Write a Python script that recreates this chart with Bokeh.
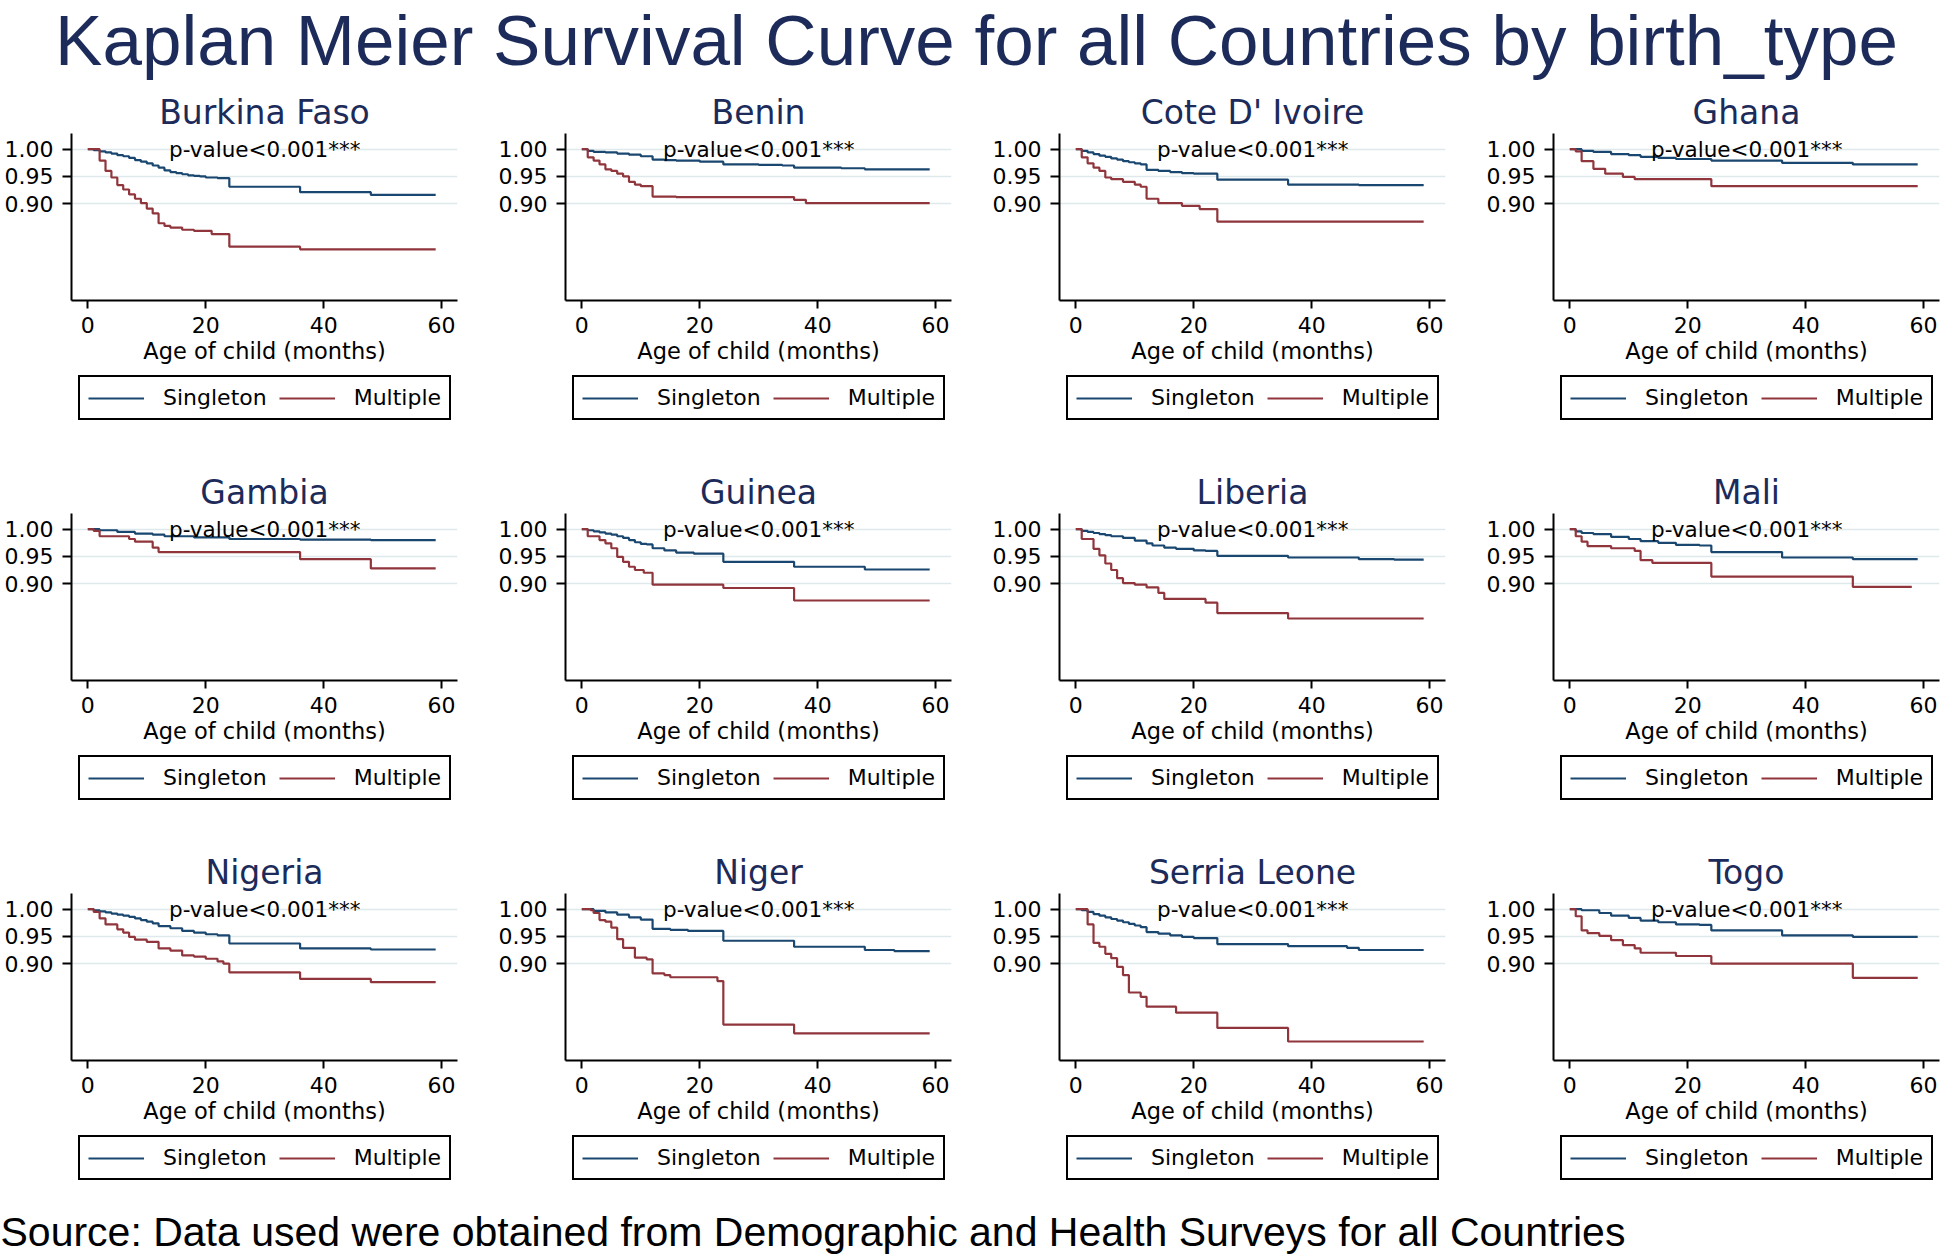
from bokeh.plotting import figure
from bokeh.models import Range1d, FixedTicker, NumeralTickFormatter, Legend, LegendItem
from bokeh.layouts import column, row
from bokeh.core.properties import value
from bokeh.embed import file_html
from bokeh.resources import INLINE

# ---------------- texts ----------------
main_title = "Kaplan Meier Survival Curve for all Countries by birth_type"
source_note = "Source: Data used were obtained from Demographic and Health Surveys for all Countries"
x_title = "Age of child (months)"
p_value_text = "p-value<0.001***"
legend_labels = ["Singleton", "Multiple"]
x_ticks = [0, 20, 40, 60]
y_ticks = [0.90, 0.95, 1.00]

countries = ["Burkina Faso", "Benin", "Cote D' Ivoire", "Ghana",
             "Gambia", "Guinea", "Liberia", "Mali",
             "Nigeria", "Niger", "Serria Leone", "Togo"]

# ---------------- survival estimates (month, survival) ----------------
burkina_faso_singleton = [(0, 1.000), (1, 0.998), (2, 0.996), (3, 0.994), (4, 0.992), (5, 0.989), (6, 0.987),
                          (7, 0.984), (8, 0.980), (9, 0.977), (10, 0.974), (11, 0.970), (12, 0.966), (13, 0.961),
                          (14, 0.958), (15, 0.956), (16, 0.954), (17, 0.952), (18, 0.951), (19, 0.950), (20, 0.948),
                          (22, 0.947), (24, 0.931), (36, 0.921), (48, 0.916), (59, 0.916)]
burkina_faso_multiple = [(0, 1.000), (2, 0.979), (3, 0.960), (4, 0.948), (5, 0.934), (6, 0.926), (7, 0.917),
                         (8, 0.909), (9, 0.901), (10, 0.891), (11, 0.882), (12, 0.864), (13, 0.859), (14, 0.856),
                         (16, 0.852), (18, 0.850), (21, 0.844), (24, 0.821), (36, 0.816), (59, 0.816)]

benin_singleton = [(0, 1.000), (1, 0.997), (2, 0.995), (4, 0.994), (6, 0.992), (8, 0.990), (10, 0.987),
                   (12, 0.981), (14, 0.980), (16, 0.979), (20, 0.977), (24, 0.972), (30, 0.971), (34, 0.970),
                   (36, 0.966), (44, 0.965), (48, 0.963), (59, 0.963)]
benin_multiple = [(0, 1.000), (1, 0.985), (2, 0.979), (3, 0.972), (4, 0.963), (5, 0.960), (6, 0.955), (7, 0.950),
                  (8, 0.940), (9, 0.935), (10, 0.932), (12, 0.913), (16, 0.912), (36, 0.907), (38, 0.901),
                  (59, 0.901)]

cote_divoire_singleton = [(0, 1.000), (1, 0.997), (2, 0.994), (3, 0.991), (4, 0.988), (5, 0.986), (6, 0.983),
                          (7, 0.981), (8, 0.978), (9, 0.976), (10, 0.974), (11, 0.972), (12, 0.962), (14, 0.960),
                          (16, 0.958), (18, 0.956), (20, 0.955), (24, 0.944), (36, 0.935), (48, 0.934), (59, 0.934)]
cote_divoire_multiple = [(0, 1.000), (1, 0.985), (2, 0.974), (3, 0.966), (4, 0.960), (5, 0.948), (6, 0.945),
                         (8, 0.940), (10, 0.935), (11, 0.931), (12, 0.909), (14, 0.901), (18, 0.896), (21, 0.890),
                         (24, 0.867), (59, 0.867)]

ghana_singleton = [(0, 1.000), (2, 0.997), (4, 0.995), (7, 0.991), (10, 0.989), (12, 0.986), (15, 0.984),
                   (18, 0.982), (24, 0.979), (36, 0.975), (48, 0.972), (59, 0.972)]
ghana_multiple = [(0, 1.000), (1, 0.996), (2, 0.978), (4, 0.964), (6, 0.955), (9, 0.949), (11, 0.945),
                  (24, 0.932), (59, 0.932)]

gambia_singleton = [(0, 1.000), (2, 0.998), (5, 0.995), (8, 0.992), (11, 0.990), (13, 0.987), (18, 0.985),
                    (24, 0.982), (36, 0.981), (48, 0.980), (59, 0.980)]
gambia_multiple = [(0, 1.000), (1, 0.997), (2, 0.987), (7, 0.982), (8, 0.977), (11, 0.966), (12, 0.958),
                   (36, 0.945), (48, 0.928), (59, 0.928)]

guinea_singleton = [(0, 1.000), (1, 0.998), (2, 0.996), (3, 0.994), (4, 0.992), (5, 0.990), (6, 0.987),
                    (7, 0.984), (8, 0.980), (9, 0.976), (10, 0.973), (11, 0.972), (12, 0.965), (14, 0.961),
                    (16, 0.957), (19, 0.955), (24, 0.940), (36, 0.931), (48, 0.926), (59, 0.926)]
guinea_multiple = [(0, 1.000), (1, 0.987), (3, 0.980), (4, 0.974), (5, 0.965), (6, 0.949), (7, 0.940),
                   (8, 0.931), (9, 0.925), (10.5, 0.920), (12, 0.898), (24, 0.892), (36, 0.869), (59, 0.869)]

liberia_singleton = [(0, 1.000), (1, 0.997), (2, 0.995), (3, 0.993), (4, 0.991), (5, 0.989), (6, 0.987),
                     (8, 0.984), (10, 0.979), (12, 0.974), (13, 0.970), (15, 0.966), (17, 0.964), (20, 0.961),
                     (22, 0.960), (24, 0.951), (36, 0.948), (48, 0.945), (54, 0.944), (59, 0.944)]
liberia_multiple = [(0, 1.000), (1, 0.982), (3, 0.964), (4, 0.952), (5, 0.937), (6, 0.925), (7, 0.910),
                    (8, 0.901), (10, 0.898), (12, 0.893), (14, 0.883), (15, 0.872), (22, 0.865), (24, 0.846),
                    (36, 0.836), (59, 0.836)]

mali_singleton = [(0, 1.000), (1, 0.996), (2, 0.993), (4, 0.991), (7, 0.986), (10, 0.982), (12, 0.978),
                  (15, 0.975), (18, 0.971), (22, 0.970), (24, 0.958), (36, 0.948), (48, 0.945), (59, 0.945)]
mali_multiple = [(0, 1.000), (1, 0.987), (2, 0.977), (3, 0.969), (7, 0.965), (11, 0.960), (12, 0.943),
                 (14, 0.938), (24, 0.913), (48, 0.894), (58, 0.894)]

nigeria_singleton = [(0, 1.000), (1, 0.998), (2, 0.996), (3, 0.994), (4, 0.992), (5, 0.990), (6, 0.988),
                     (7, 0.986), (8, 0.983), (9, 0.980), (10, 0.977), (11, 0.974), (12, 0.969), (14, 0.965),
                     (16, 0.960), (18, 0.957), (20, 0.954), (22, 0.952), (24, 0.937), (36, 0.928), (48, 0.926),
                     (59, 0.926)]
nigeria_multiple = [(0, 1.000), (1, 0.995), (2, 0.983), (3, 0.972), (5, 0.963), (6, 0.957), (7, 0.949),
                    (8, 0.944), (10, 0.940), (12, 0.928), (14, 0.924), (16, 0.915), (18, 0.913), (20, 0.909),
                    (22, 0.904), (23, 0.900), (24, 0.884), (36, 0.872), (48, 0.866), (59, 0.866)]

niger_singleton = [(0, 1.000), (2, 0.997), (4, 0.994), (6, 0.990), (8, 0.985), (10, 0.981), (12, 0.964),
                   (15, 0.962), (18, 0.960), (24, 0.942), (36, 0.931), (48, 0.925), (53, 0.923), (59, 0.923)]
niger_multiple = [(0, 1.000), (1.5, 0.998), (2, 0.993), (3, 0.980), (4, 0.977), (5, 0.966), (6, 0.945),
                  (7, 0.929), (9, 0.911), (11, 0.908), (12, 0.882), (14, 0.879), (15, 0.875), (23, 0.868),
                  (24, 0.788), (36, 0.772), (59, 0.772)]

sierra_leone_singleton = [(0, 1.000), (1, 0.998), (2, 0.995), (3, 0.991), (4, 0.988), (5, 0.985), (6, 0.982),
                          (7, 0.979), (8, 0.976), (9, 0.973), (10, 0.970), (11, 0.967), (12, 0.958), (14, 0.955),
                          (16, 0.952), (18, 0.949), (20, 0.947), (24, 0.936), (36, 0.932), (46, 0.929), (48, 0.925),
                          (59, 0.925)]
sierra_leone_multiple = [(0, 1.000), (2, 0.972), (3, 0.938), (4, 0.931), (5, 0.918), (6, 0.910), (7, 0.894),
                         (8, 0.879), (9, 0.847), (11, 0.839), (12, 0.821), (17, 0.810), (24, 0.782), (36, 0.757),
                         (59, 0.757)]

togo_singleton = [(0, 1.000), (2, 0.998), (5, 0.993), (7, 0.988), (10, 0.984), (12, 0.979), (15, 0.976),
                  (18, 0.972), (22, 0.971), (24, 0.961), (36, 0.952), (48, 0.949), (59, 0.949)]
togo_multiple = [(0, 1.000), (1, 0.987), (2, 0.961), (3, 0.956), (5, 0.951), (7, 0.943), (9, 0.934),
                 (11, 0.928), (12, 0.920), (18, 0.914), (24, 0.900), (48, 0.874), (59, 0.874)]

singleton_curves = [burkina_faso_singleton, benin_singleton, cote_divoire_singleton, ghana_singleton,
                    gambia_singleton, guinea_singleton, liberia_singleton, mali_singleton,
                    nigeria_singleton, niger_singleton, sierra_leone_singleton, togo_singleton]
multiple_curves = [burkina_faso_multiple, benin_multiple, cote_divoire_multiple, ghana_multiple,
                   gambia_multiple, guinea_multiple, liberia_multiple, mali_multiple,
                   nigeria_multiple, niger_multiple, sierra_leone_multiple, togo_multiple]

# ---------------- styling ----------------
NAVY_TITLE = "#1c2b5a"
C_SINGLE = "#1a476f"
C_MULT = "#90353b"
GRID = "#dfe9ec"
PANEL_FONT = "DejaVu Sans"
HEAD_FONT = "Liberation Sans"

TOTAL_W = 1946
FRAME_W, FRAME_H = 386, 167
BORDER_L, BORDER_T, BORDER_B = 71, 53, 75
col_widths = [494, 494, 494, TOTAL_W - 3 * 494]
legend_heights = [85, 85, 65]
HEAD_H = 80
FOOT_H = 55
NAN = float("nan")


def bare_figure(w, h, xr, yr):
    return figure(width=w, height=h, x_range=xr, y_range=yr, title=None,
                  x_axis_type=None, y_axis_type=None, output_backend="svg", toolbar_location=None,
                  min_border=0, min_border_left=0, min_border_right=0, min_border_top=0,
                  min_border_bottom=0, outline_line_color=None,
                  background_fill_color="white", border_fill_color="white")


def make_cell(i):
    r, c = divmod(i, 4)
    p = figure(frame_width=FRAME_W, frame_height=FRAME_H,
               x_range=Range1d(-2.77, 62.7), y_range=Range1d(0.7221, 1.0288),
               output_backend="svg", toolbar_location=None,
               min_border_left=BORDER_L, min_border_right=col_widths[c] - BORDER_L - FRAME_W,
               min_border_top=BORDER_T, min_border_bottom=BORDER_B,
               background_fill_color="white", border_fill_color="white",
               outline_line_color=None)
    p.title.text = countries[i]
    p.title.align = "center"
    p.title.text_font = PANEL_FONT
    p.title.text_font_size = "33px"
    p.title.text_font_style = "normal"
    p.title.text_color = NAVY_TITLE
    p.title.standoff = 3

    for ax in (p.xaxis[0], p.yaxis[0]):
        ax.axis_line_width = 2
        ax.axis_line_color = "black"
        ax.major_tick_line_width = 2
        ax.major_tick_line_color = "black"
        ax.major_tick_in = 0
        ax.minor_tick_line_color = None
        ax.major_label_text_font = PANEL_FONT
        ax.major_label_text_font_size = "22px"
        ax.major_label_text_color = "black"

    p.xaxis.ticker = FixedTicker(ticks=x_ticks)
    p.xaxis.major_tick_out = 8
    p.xaxis.major_label_standoff = 8
    p.xaxis.axis_label = x_title
    p.xaxis.axis_label_text_font = PANEL_FONT
    p.xaxis.axis_label_text_font_size = "22.5px"
    p.xaxis.axis_label_text_font_style = "normal"
    p.xaxis.axis_label_text_color = "black"
    p.xaxis.axis_label_standoff = 2

    p.yaxis.ticker = FixedTicker(ticks=y_ticks)
    p.yaxis.formatter = NumeralTickFormatter(format="0.00")
    p.yaxis.major_tick_out = 9
    p.yaxis.major_label_standoff = 9

    p.xgrid.visible = False
    p.ygrid.ticker = FixedTicker(ticks=y_ticks)
    p.ygrid.grid_line_color = GRID
    p.ygrid.grid_line_width = 1.5

    s_t = [t for t, s in singleton_curves[i]]
    s_s = [s for t, s in singleton_curves[i]]
    m_t = [t for t, s in multiple_curves[i]]
    m_s = [s for t, s in multiple_curves[i]]
    p.step(x=s_t, y=s_s, mode="after", line_color=C_SINGLE, line_width=2.2)
    p.step(x=m_t, y=m_s, mode="after", line_color=C_MULT, line_width=2.2)

    p.text(x=[30], y=[1.0], text=[p_value_text], text_align="center", text_baseline="middle",
           text_font=value(PANEL_FONT), text_font_size="21.5px", text_color="black")

    # legend strip below the panel (its frame is aligned with the panel frame)
    lh = legend_heights[r]
    lf = bare_figure(col_widths[c], lh, Range1d(0, 1), Range1d(0, 1))
    g1 = lf.line(x=[NAN], y=[NAN], line_color=C_SINGLE, line_width=2.2)
    g2 = lf.line(x=[NAN], y=[NAN], line_color=C_MULT, line_width=2.2)
    legend = Legend(items=[LegendItem(label=legend_labels[0], renderers=[g1]),
                           LegendItem(label=legend_labels[1], renderers=[g2])],
                    orientation="horizontal", location=(7, lh - 45),
                    border_line_color="black", border_line_width=2, border_line_alpha=1.0,
                    background_fill_color="white", background_fill_alpha=1.0,
                    padding=8, spacing=12, label_standoff=19,
                    glyph_width=56, glyph_height=20, label_height=20,
                    label_text_font=PANEL_FONT, label_text_font_size="22px",
                    label_text_color="black", margin=0)
    lf.add_layout(legend, "center")
    return column(p, lf)


cells = [make_cell(i) for i in range(12)]

# header
head = bare_figure(TOTAL_W, HEAD_H, Range1d(0, TOTAL_W), Range1d(0, HEAD_H))
head.text(x=[976], y=[HEAD_H - 40], text=[main_title], text_align="center", text_baseline="middle",
          text_font=value(HEAD_FONT), text_font_size="71px", text_color=NAVY_TITLE)

# footer
foot = bare_figure(TOTAL_W, FOOT_H, Range1d(0, TOTAL_W), Range1d(0, FOOT_H))
foot.text(x=[0], y=[FOOT_H - 31.5], text=[source_note], text_align="left", text_baseline="middle",
          text_font=value(HEAD_FONT), text_font_size="41px", text_color="black")

layout = column(head,
                row(*cells[0:4]),
                row(*cells[4:8]),
                row(*cells[8:12]),
                foot)

open("out.html", "w").write(file_html(layout, INLINE))
